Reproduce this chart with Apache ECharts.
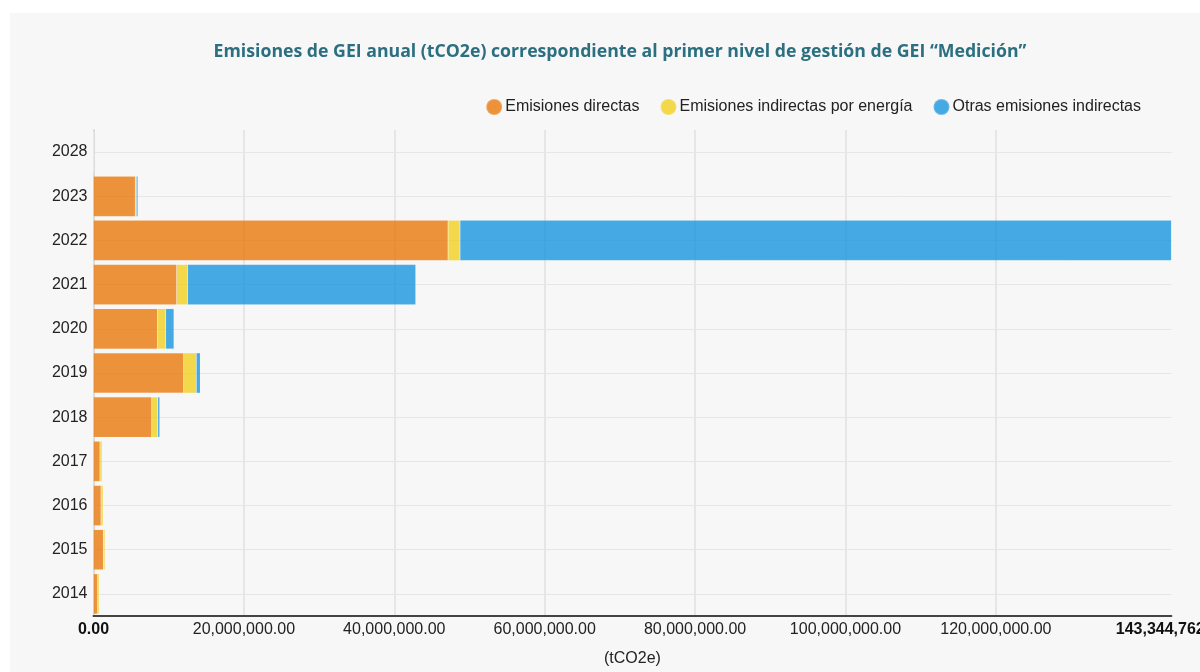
<!DOCTYPE html>
<html>
<head>
<meta charset="utf-8">
<script src="https://cdn.jsdelivr.net/npm/echarts@6/dist/echarts.min.js"></script>
<style>
html,body{margin:0;padding:0;background:#fff;overflow:hidden;width:1200px;height:672px;}
#c{position:absolute;left:10px;top:13px;width:1220px;height:659px;background:#f7f7f7;}
</style>
</head>
<body>
<div id="c"></div>
<script>
const titleText = 'Emisiones de GEI anual (tCO2e) correspondiente al primer nivel de gestión de GEI “Medición”';
const axisName = '(tCO2e)';
const years = ['2014','2015','2016','2017','2018','2019','2020','2021','2022','2023','2028'];
const seriesNames = ['Emisiones directas','Emisiones indirectas por energía','Otras emisiones indirectas'];
const directas   = [550000, 1300000, 1000000, 860000, 7750000, 11990000, 8500000, 11060000, 47150000, 5550000, 0];
const indirectas = [200000, 230000, 280000, 280000, 800000, 1680000, 1100000, 1460000, 1590000, 150000, 0];
const otras      = [0, 0, 0, 0, 260000, 530000, 1100000, 30330000, 94604762, 200000, 0];
const tickValues = [0, 20000000, 40000000, 60000000, 80000000, 100000000, 120000000];
const colors = ['#e8780a','#f0cf1e','#1896de'];

const chart = echarts.init(document.getElementById('c'), null, {renderer:'canvas'});
function fmt(v){
  return Number(v).toLocaleString('en-US',{minimumFractionDigits:2,maximumFractionDigits:2});
}
const maxTotal = Math.max(...years.map((_,i)=>directas[i]+indirectas[i]+otras[i]));
const dataSets = [directas, indirectas, otras];
const F = 'Liberation Sans, Arial';
chart.setOption({
  backgroundColor:'#f7f7f7',
  animation:false,
  title:{
    text:titleText,
    left:'center',
    top:25,
    textStyle:{fontFamily:'Open Sans',fontWeight:'bold',fontSize:17.7,color:'#2b6f80'}
  },
  legend:{
    right:84,
    top:80,
    icon:'circle',
    itemWidth:16,
    itemHeight:16,
    itemGap:20,
    textStyle:{fontFamily:F,fontSize:16,color:'#222',padding:[0,0,0,-2]},
    data:seriesNames
  },
  grid:{left:83.5,right:54,top:117,bottom:54,containLabel:false},
  xAxis:{
    type:'value',
    min:0,
    max:maxTotal,
    interval:20000000,
    name:axisName,
    nameLocation:'middle',
    nameGap:35,
    nameTextStyle:{fontFamily:F,fontSize:16,color:'#222'},
    axisLine:{show:true,lineStyle:{color:'#444',width:2}},
    axisTick:{show:false,customValues:tickValues},
    splitLine:{show:true,lineStyle:{color:'#e6e6e6',width:2}},
    axisLabel:{
      customValues:tickValues.concat([maxTotal]),
      showMinLabel:true,
      showMaxLabel:true,
      margin:6,
      fontFamily:F,
      fontSize:16,
      color:'#222',
      formatter:function(v){
        if(v===0 || v===maxTotal) return '{b|'+fmt(v)+'}';
        return fmt(v);
      },
      rich:{b:{fontWeight:'bold',fontFamily:F,fontSize:16,color:'#111'}}
    }
  },
  yAxis:{
    type:'category',
    data:years,
    axisLine:{show:true,lineStyle:{color:'#dcdcdc',width:2}},
    axisTick:{show:false},
    splitLine:{show:true,alignWithLabel:true,lineStyle:{color:'#e6e6e6',width:1}},
    axisLabel:{fontFamily:F,fontSize:16,color:'#222',margin:6}
  },
  series: seriesNames.map((n,k)=>({
    name:n,
    type:'bar',
    stack:'total',
    barCategoryGap:'9%',
    data:dataSets[k],
    itemStyle:{color:colors[k],opacity:0.8,borderColor:'rgba(255,255,255,0.25)',borderWidth:0.5}
  }))
});
</script>
</body>
</html>
